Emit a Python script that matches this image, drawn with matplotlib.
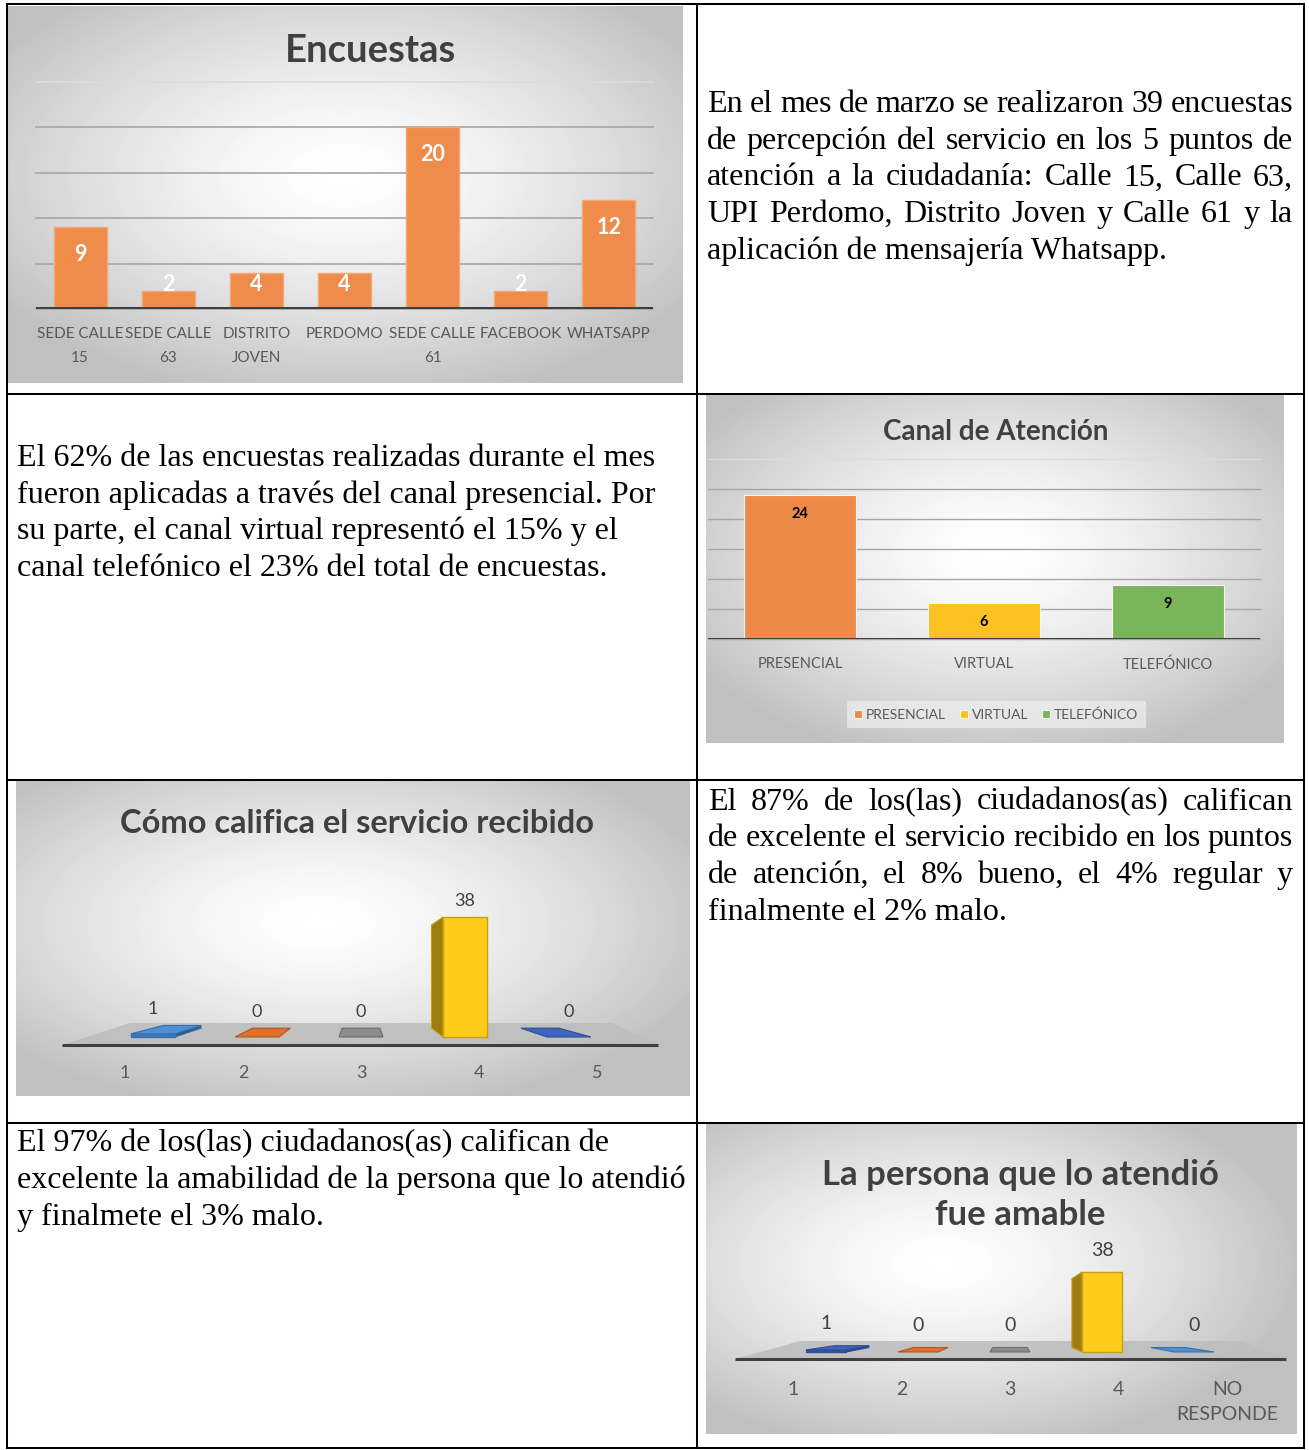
import numpy as np
import matplotlib.pyplot as plt
from matplotlib.patches import Polygon
from matplotlib.colors import to_rgb

W, H = 1309, 1450
SANS = ["Lato", "DejaVu Sans"]
SERIF = ["Liberation Serif", "DejaVu Serif"]

# ---- data ----
enc_cats = ["SEDE CALLE\n15", "SEDE CALLE\n63", "DISTRITO\nJOVEN", "PERDOMO",
            "SEDE CALLE\n61", "FACEBOOK", "WHATSAPP"]
enc_vals = [9, 2, 4, 4, 20, 2, 12]

canal_cats = ["PRESENCIAL", "VIRTUAL", "TELEFÓNICO"]
canal_vals = [24, 6, 9]
canal_colors = ["#EE8A48", "#FBC221", "#7AB55A"]

serv_cats = ["1", "2", "3", "4", "5"]
serv_vals = [1, 0, 0, 38, 0]
serv_colors = ["#4A90D9", "#E0702A", "#8C8C8C", "#FFCC1A", "#3D64BE"]

amab_cats = ["1", "2", "3", "4", "NO\nRESPONDE"]
amab_vals = [1, 0, 0, 38, 0]
amab_colors = ["#3D64BE", "#E0702A", "#8C8C8C", "#FFCC1A", "#4A90D9"]

txt_marzo = ["En el mes de marzo se realizaron 39 encuestas",
             "de percepción del servicio en los 5 puntos de",
             "atención a la ciudadanía: Calle 15, Calle 63,",
             "UPI Perdomo, Distrito Joven y Calle 61 y la",
             "aplicación de mensajería Whatsapp."]
txt_canal = ["El 62% de las encuestas realizadas durante el mes",
             "fueron aplicadas a través del canal presencial. Por",
             "su parte, el canal virtual representó el 15% y el",
             "canal telefónico el 23% del total de encuestas."]
txt_serv = ["El 87% de los(las) ciudadanos(as) califican",
            "de excelente el servicio recibido en los puntos",
            "de atención, el 8% bueno, el 4% regular y",
            "finalmente el 2% malo."]
txt_amab = ["El 97% de los(las) ciudadanos(as) califican de",
            "excelente la amabilidad de la persona que lo atendió",
            "y finalmete el 3% malo."]

fig = plt.figure(figsize=(W / 100, H / 100), dpi=100)
page = fig.add_axes([0, 0, 1, 1])
page.axis("off")


def panel(x0, y0, x1, y1, fx=0.5, fy=0.45):
    nx, ny = int(x1 - x0), int(y1 - y0)
    X, Y = np.meshgrid(np.linspace(0, 1, nx), np.linspace(0, 1, ny))
    r = np.sqrt(((X - fx) / 0.62) ** 2 + ((Y - fy) / 0.62) ** 2)
    v = 1 - 0.25 * np.clip(r, 0, 1) ** 1.4
    page.imshow(v, cmap="gray", vmin=0, vmax=1, extent=(x0, x1, y1, y0),
                aspect="auto", zorder=0, interpolation="bilinear")


def box(x0, y0, x1, y1):
    a = fig.add_axes([x0 / W, 1 - y1 / H, (x1 - x0) / W, (y1 - y0) / H])
    a.patch.set_alpha(0)
    for s in a.spines.values():
        s.set_visible(False)
    return a


panel(8, 6, 683, 383)
panel(706, 395, 1284, 743)
panel(16, 781, 690, 1096, 0.45, 0.45)
panel(706, 1124, 1297, 1434, 0.4, 0.45)

# table grid
lw = 1.45
for y in [4, 394, 780, 1123, 1448]:
    page.plot([7, 1304], [y, y], color="black", lw=lw, zorder=6)
for x in [7, 697, 1304]:
    page.plot([x, x], [4, 1448], color="black", lw=lw, zorder=6)

# ---- chart 1: Encuestas ----
ax1 = box(36, 82, 653, 309)
x = np.arange(len(enc_vals))
ax1.bar(x, enc_vals, width=0.6, color="#EF8C4B", edgecolor="#F3A878", lw=1, zorder=3)
ax1.set_xlim(-0.5, len(enc_vals) - 0.5)
ax1.set_ylim(0, 25)
ax1.set_yticks(range(0, 26, 5))
ax1.set_yticklabels([])
ax1.grid(axis="y", color="#A6A6A6", lw=1.2)
ax1.set_axisbelow(True)
for g in ax1.get_ygridlines():
    g.set_clip_on(False)
ax1.get_ygridlines()[-1].set_color("#DCDCDC")
ax1.axhline(0, color="#404040", lw=2.9, zorder=4)
ax1.set_xticks(x, enc_cats)
ax1.tick_params(length=0, pad=13, labelsize=11, labelcolor="#595959")
for t in ax1.get_xticklabels():
    t.set_family(SANS)
    t.set_linespacing(1.9)
for xi, v in zip(x, enc_vals):
    ax1.text(xi, max(v - 3.0, 2.75), str(v), ha="center", va="center", color="white",
             fontsize=15.5, fontweight="bold", family=SANS, zorder=5)
page.text(370, 62, "Encuestas", ha="center", va="baseline", fontsize=27.5,
          fontweight="bold", color="#404040", family=SANS)

# ---- chart 2: Canal de Atención ----
ax2 = box(708, 459, 1260, 639)
x2 = np.arange(len(canal_vals))
b2 = ax2.bar(x2, canal_vals, width=0.61, color=canal_colors, edgecolor="#F5F5F5",
             lw=0.8, zorder=3)
ax2.set_xlim(-0.5, len(canal_vals) - 0.5)
ax2.set_ylim(0, 30)
ax2.set_yticks(range(0, 31, 5))
ax2.set_yticklabels([])
ax2.grid(axis="y", color="#A6A6A6", lw=1.0)
ax2.set_axisbelow(True)
for g in ax2.get_ygridlines():
    g.set_clip_on(False)
ax2.get_ygridlines()[-1].set_color("#DCDCDC")
ax2.axhline(0, color="#404040", lw=2.2, zorder=4)
ax2.set_xticks(x2, canal_cats)
ax2.tick_params(length=0, pad=13, labelsize=10.5, labelcolor="#595959")
for t in ax2.get_xticklabels():
    t.set_family(SANS)
for xi, v in zip(x2, canal_vals):
    ax2.text(xi, v - 3.1, str(v), ha="center", va="center", color="black",
             fontsize=10.5, fontweight="bold", family=SANS, zorder=5)
leg = ax2.legend(list(b2), canal_cats, ncol=3, loc="center", bbox_to_anchor=(0.522, -0.42),
                 prop={"family": SANS, "size": 10}, handlelength=0.55, handleheight=0.55,
                 handletextpad=0.3, columnspacing=1.0, borderpad=0.55, fancybox=False)
leg.get_frame().set_facecolor("#F4F4F4")
leg.get_frame().set_alpha(0.6)
leg.get_frame().set_edgecolor("none")
for t in leg.get_texts():
    t.set_color("#595959")
page.text(996, 440, "Canal de Atención", ha="center", va="baseline", fontsize=20,
          fontweight="bold", color="#404040", family=SANS)


# ---- pseudo 3D column charts ----
def bars3d(vals, cats, colors, c, spacing, w, base, ppu, sb, cy,
           s_lab, lab_base, val_off, fs, floor):
    page.add_patch(Polygon(floor, closed=True, fc="#BEBEBE", ec="none", alpha=0.9, zorder=2))
    page.plot([floor[0][0], floor[1][0]], [floor[0][1]] * 2, color="#404040", lw=2.2,
              zorder=3, solid_capstyle="butt")

    def P(px, py):
        return (c + (px - c) * sb, cy + (py - cy) * sb)

    n = len(vals)
    ls = 1.55
    step = 0.99 * fs * 100 / 72 * ls / 1.2
    for i, (v, col) in enumerate(zip(vals, colors)):
        xc = c + (i - (n - 1) / 2) * spacing
        xl, xr = xc - w / 2, xc + w / 2
        yt = base - v * ppu
        rgb = np.array(to_rgb(col))
        dark = rgb * 0.62
        edge = rgb * 0.78
        if v > 0 and xl > c:
            side = [(xl, base), (xl, yt), P(xl, yt), P(xl, base)]
            page.add_patch(Polygon(side, fc=dark, ec=edge, lw=0.8, zorder=4))
        elif v > 0 and xr < c:
            side = [(xr, base), (xr, yt), P(xr, yt), P(xr, base)]
            page.add_patch(Polygon(side, fc=dark, ec=edge, lw=0.8, zorder=4))
        if yt > cy:
            top = [(xl, yt), (xr, yt), P(xr, yt), P(xl, yt)]
            page.add_patch(Polygon(top, fc=rgb, ec=edge, lw=0.8, zorder=4))
        if v > 0:
            front = [(xl, base), (xr, base), (xr, yt), (xl, yt)]
            page.add_patch(Polygon(front, fc=rgb if v > 2 else rgb * 0.85, ec=edge,
                                   lw=1.0, zorder=5))
        ytop = min(yt, P(xc, yt)[1])
        page.text(xc, ytop - val_off, str(v), ha="center", va="center", fontsize=fs,
                  color="#404040", family=SANS, zorder=6)
        page.text(c + (xc - c) * s_lab, lab_base + cats[i].count("\n") * step, cats[i],
                  ha="center", va="baseline", fontsize=fs, color="#595959", family=SANS,
                  linespacing=ls, zorder=6)


bars3d(serv_vals, serv_cats, serv_colors, c=361, spacing=104, w=44, base=1037,
       ppu=120 / 38, sb=0.86, cy=974, s_lab=1.135, lab_base=1078, val_off=16, fs=13,
       floor=[(62, 1045), (658, 1045), (612, 1023), (130, 1023)])
page.text(357, 833, "Cómo califica el servicio recibido", ha="center", va="baseline",
          fontsize=23.5, fontweight="bold", color="#404040", family=SANS)

bars3d(amab_vals, amab_cats, amab_colors, c=1010, spacing=92, w=40, base=1352,
       ppu=80 / 38, sb=0.86, cy=1320, s_lab=1.18, lab_base=1395, val_off=22, fs=14,
       floor=[(735, 1359), (1286, 1359), (1243, 1341), (800, 1341)])
page.text(1020, 1225, "La persona que lo atendió\nfue amable", ha="center", va="baseline",
          fontsize=25, fontweight="bold", color="#404040", family=SANS, linespacing=1.3)

# ---- paragraphs ----
renderer = fig.canvas.get_renderer()


def para(lines, x0, x1, y0, step, justify):
    for k, line in enumerate(lines):
        y = y0 + k * step
        if justify and k < len(lines) - 1:
            words = line.split(" ")
            ts = [page.text(0, y, wd, fontsize=23, family=SERIF, va="baseline", ha="left")
                  for wd in words]
            ws = [t.get_window_extent(renderer).width for t in ts]
            gap = (x1 - x0 - sum(ws)) / (len(words) - 1)
            pos = x0
            for t, wd in zip(ts, ws):
                t.set_x(pos)
                pos += wd + gap
        else:
            page.text(x0, y, line, fontsize=23, family=SERIF, va="baseline", ha="left")


para(txt_marzo, 707, 1293, 112, 36.7, True)
para(txt_canal, 17, 688, 466, 36.7, False)
para(txt_serv, 708, 1293, 809.5, 36.8, True)
para(txt_amab, 17, 688, 1151.5, 36.5, False)

page.set_xlim(0, W)
page.set_ylim(H, 0)
fig.savefig("out.png", dpi=100)
